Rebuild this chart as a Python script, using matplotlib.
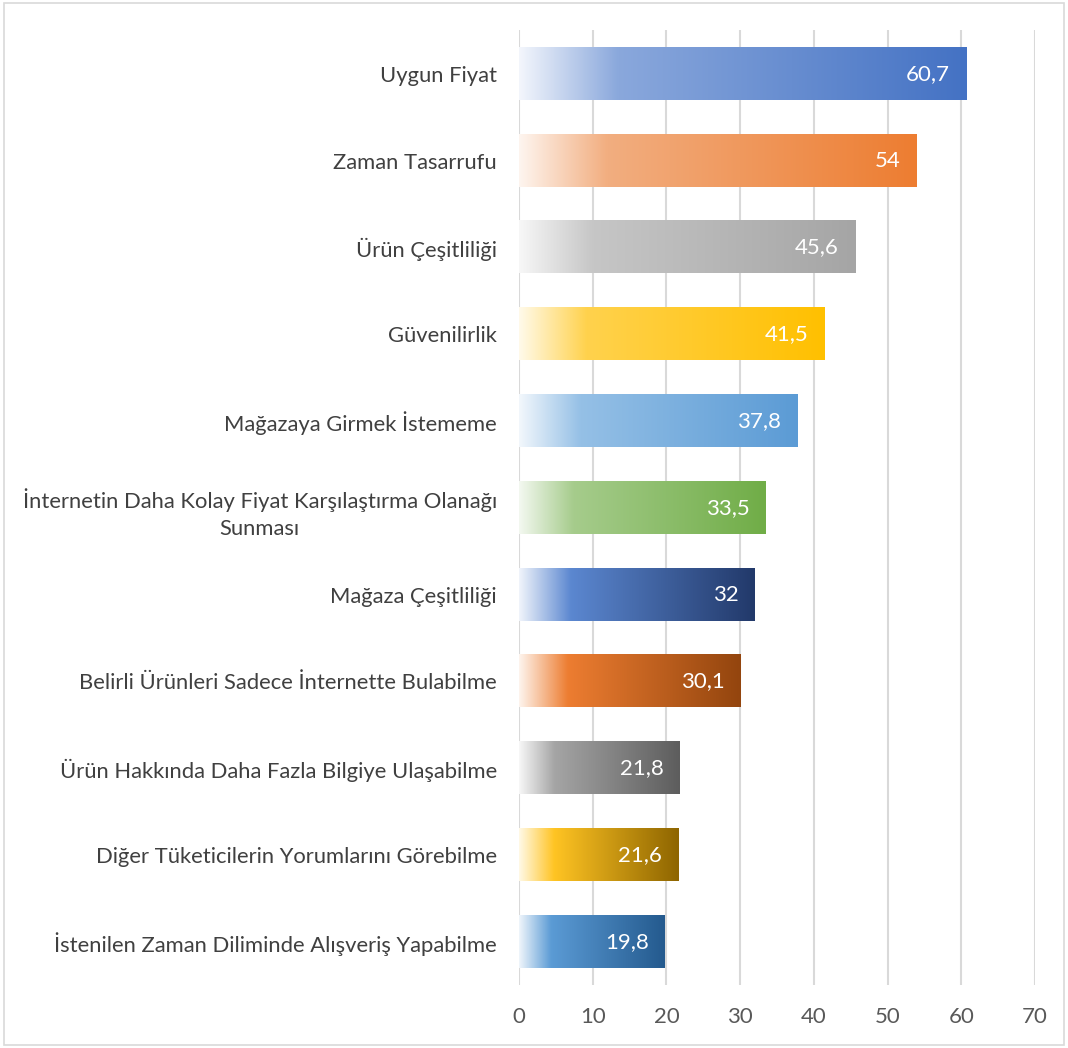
import numpy as np
import matplotlib.pyplot as plt
from matplotlib.colors import LinearSegmentedColormap
from matplotlib.patches import Rectangle

categories = [
    "Uygun Fiyat",
    "Zaman Tasarrufu",
    "Ürün Çeşitliliği",
    "Güvenilirlik",
    "Mağazaya Girmek İstememe",
    "İnternetin Daha Kolay Fiyat Karşılaştırma Olanağı\nSunması",
    "Mağaza Çeşitliliği",
    "Belirli Ürünleri Sadece İnternette Bulabilme",
    "Ürün Hakkında Daha Fazla Bilgiye Ulaşabilme",
    "Diğer Tüketicilerin Yorumlarını Görebilme",
    "İstenilen Zaman Diliminde Alışveriş Yapabilme",
]
values = [60.7, 54, 45.6, 41.5, 37.8, 33.5, 32, 30.1, 21.8, 21.6, 19.8]
value_labels = ["60,7", "54", "45,6", "41,5", "37,8", "33,5", "32", "30,1", "21,8", "21,6", "19,8"]

# gradient stops per bar: (start, at ~22%, end)
gradients = [
    ("#F3F6FC", "#8AA8DC", "#4472C4"),
    ("#FEF5EF", "#F2AE80", "#ED7D31"),
    ("#F7F7F7", "#C6C6C6", "#A5A5A5"),
    ("#FFFAEA", "#FFD24D", "#FFC000"),
    ("#F2F7FC", "#95C0E6", "#5B9BD5"),
    ("#F3F8F0", "#A6CC8C", "#70AD47"),
    ("#F0F4FB", "#5B87D0", "#22396A"),
    ("#FEF4ED", "#ED7D31", "#93450E"),
    ("#F7F7F7", "#A5A5A5", "#5D5D5D"),
    ("#FFF9E6", "#FFC423", "#8E6500"),
    ("#EFF5FB", "#5B9BD5", "#245A8E"),
]

plt.rcParams['font.family'] = ['Lato', 'DejaVu Sans']

fig = plt.figure(figsize=(10.68, 10.48), dpi=100)
ax = fig.add_axes([0.486, 0.060, 0.483, 0.911])
fig.patches.append(Rectangle((0.004, 0.003), 0.992, 0.994, transform=fig.transFigure,
                             fill=False, edgecolor="#D9D9D9", linewidth=1.2))

n = len(categories)
ypos = np.arange(n)
bar_h = 0.6

grad = np.linspace(0, 1, 256).reshape(1, -1)
for i, (v, stops) in enumerate(zip(values, gradients)):
    cmap = LinearSegmentedColormap.from_list(f"g{i}", [(0, stops[0]), (0.22, stops[1]), (1, stops[2])])
    ax.imshow(grad, cmap=cmap, aspect="auto", interpolation="bicubic",
              extent=[0, v, i + bar_h / 2, i - bar_h / 2], zorder=2)
    ax.text(v - 2.2, i, value_labels[i], ha="right", va="center", color="white",
            fontsize=16, zorder=3)

ax.set_xlim(0, 70)
ax.set_ylim(n - 0.5, -0.5)

ax.set_xticks(np.arange(0, 71, 10))
ax.set_yticks(ypos)
ax.set_yticklabels(categories, fontsize=15.8, color="#404040", multialignment="center",
                   linespacing=1.45)
ax.tick_params(axis="x", labelsize=16, labelcolor="#595959", length=0, pad=16)
ax.tick_params(axis="y", length=0, pad=16)
ax.grid(axis="x", color="#D9D9D9", linewidth=1.5, zorder=0)
ax.set_axisbelow(True)
for s in ax.spines.values():
    s.set_visible(False)

fig.savefig("out.png", dpi=100)
